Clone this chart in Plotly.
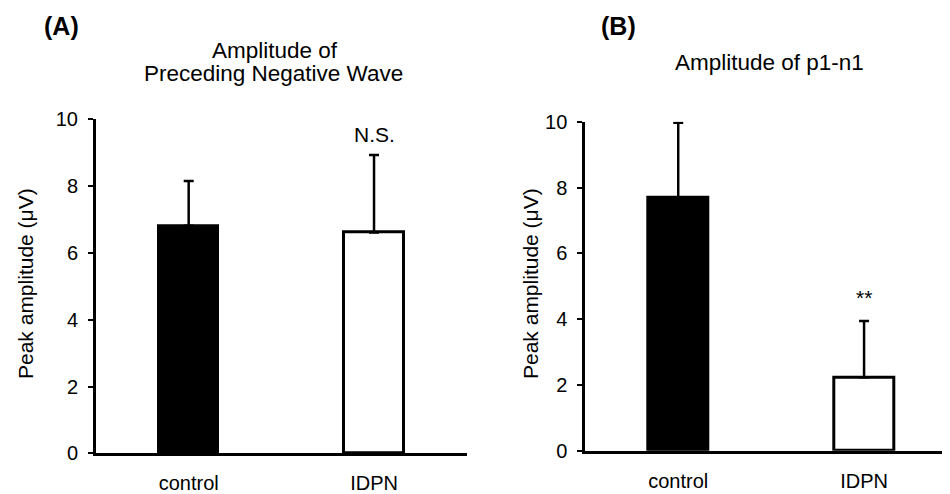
import plotly.graph_objects as go

categories = ["control", "IDPN"]
pnw_mean = [6.81, 6.61]
pnw_sd = [1.34, 2.32]
p1n1_mean = [7.68, 2.23]
p1n1_sd = [2.29, 1.71]
sig_a = ["", "N.S."]
sig_b = ["", "**"]
y_ticks = [0, 2, 4, 6, 8, 10]
bar_colors = ["black", "white"]

# the page places the figure 8px from the top-left corner
OFF = 8
W, H = 950 - OFF, 494 - OFF
FONT = "Liberation Sans, Arial, sans-serif"

fig = go.Figure()

for mean, sd, xa, ya in [(pnw_mean, pnw_sd, "x", "y"), (p1n1_mean, p1n1_sd, "x2", "y2")]:
    fig.add_trace(go.Bar(
        x=categories, y=mean, xaxis=xa, yaxis=ya, width=0.32,
        marker=dict(color=bar_colors, line=dict(color="black", width=3)),
        error_y=dict(type="data", array=sd, arrayminus=[0, 0], symmetric=False,
                     color="black", thickness=2.5, width=5),
        showlegend=False, hoverinfo="skip",
    ))

def px_x(p):
    return (p - OFF) / W

def px_y(p):
    return (H - (p - OFF)) / H

axis_common = dict(showline=True, linecolor="black", linewidth=3, showgrid=False,
                   zeroline=False, automargin=False,
                   tickfont=dict(family=FONT, size=20, color="black"))

fig.update_layout(
    width=W, height=H, autosize=False, margin=dict(l=0, r=0, t=0, b=0, pad=0),
    paper_bgcolor="white", plot_bgcolor="white", bargap=0,
    font=dict(family=FONT, color="black"),
    xaxis=dict(domain=[px_x(96), px_x(466.7)], range=[-0.5, 1.5], anchor="y",
               ticks="", ticklabelstandoff=10, **axis_common),
    yaxis=dict(domain=[px_y(453.3), px_y(119.3)], range=[0, 10], anchor="x",
               tickvals=y_ticks, ticks="outside", ticklen=5, tickwidth=2,
               tickcolor="black", ticklabelstandoff=6, **axis_common),
    xaxis2=dict(domain=[px_x(585.3), 1.0], range=[-0.5, 1.5 - 7 / 186], anchor="y2",
                ticks="", ticklabelstandoff=10, **axis_common),
    yaxis2=dict(domain=[px_y(450.7), px_y(121.7)], range=[0, 10], anchor="x2",
                tickvals=y_ticks, ticks="outside", ticklen=5, tickwidth=2,
                tickcolor="black", ticklabelstandoff=6, **axis_common),
)

def pann(text, x, y, size, angle=0):
    return dict(text=text, x=px_x(x), y=px_y(y), xref="paper", yref="paper",
                xanchor="center", yanchor="middle", textangle=angle,
                showarrow=False, font=dict(family=FONT, size=size))

ann = [
    pann("<b>(A)</b>", 61, 26, 25),
    pann("<b>(B)</b>", 618, 26, 25),
    pann("Amplitude of", 275, 50, 22.5),
    pann("Preceding Negative Wave", 273, 73.5, 22.5),
    pann("Amplitude of p1-n1", 769, 63, 22.5),
    pann("Peak amplitude (μV)", 25, 284, 21, -90),
    pann("Peak amplitude (μV)", 530, 284, 21, -90),
]
for cat, m, s, lab in zip(categories, pnw_mean, pnw_sd, sig_a):
    if lab:
        ann.append(dict(text=lab, x=cat, y=m + s + 0.22, xref="x", yref="y",
                        xanchor="center", yanchor="bottom", showarrow=False,
                        font=dict(family=FONT, size=21)))
for cat, m, s, lab in zip(categories, p1n1_mean, p1n1_sd, sig_b):
    if lab:
        ann.append(dict(text=lab, x=cat, y=m + s + 0.3, xref="x2", yref="y2",
                        xanchor="center", yanchor="bottom", showarrow=False,
                        font=dict(family=FONT, size=21)))
fig.update_layout(annotations=ann)

fig.write_html("out.html")
